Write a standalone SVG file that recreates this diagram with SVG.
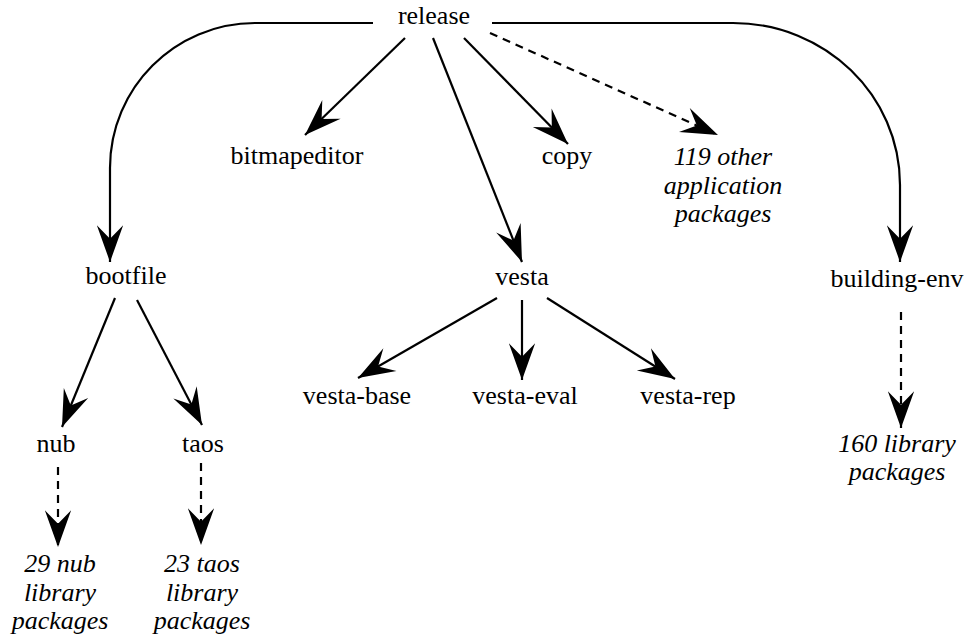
<svg xmlns="http://www.w3.org/2000/svg" width="967" height="638" viewBox="0 0 967 638">
<style>
text{font-family:"Liberation Serif","Times New Roman",Times,serif;font-size:26px;fill:#000;text-anchor:middle}
.it{font-style:italic}
.e{fill:none;stroke:#000;stroke-width:2.2}
.d{stroke-dasharray:8 6}
</style>
<defs>
<marker id="ah" markerUnits="userSpaceOnUse" markerWidth="40" markerHeight="30" viewBox="-36 -14 38 28" refX="0" refY="0" orient="auto">
<path d="M0,0 L-35,-12.5 L-22,0 L-35,12.5 Z" fill="#000"/>
</marker>
</defs>
<rect width="967" height="638" fill="#fff"/>
<g id="connectors">
<path class="e" d="M373,23 H255 C175,23 110,88 110,168 V262" marker-end="url(#ah)"/>
<path class="e" d="M492,23 H733 C825,23 900,95 900,185 V262" marker-end="url(#ah)"/>
<path class="e" d="M405,38 L305,135" marker-end="url(#ah)"/>
<path class="e" d="M433,38 L522,262" marker-end="url(#ah)"/>
<path class="e" d="M464,38 L568,144" marker-end="url(#ah)"/>
<path class="e d" d="M490,33 L718,135" marker-end="url(#ah)"/>
<path class="e" d="M115,298 L62,427" marker-end="url(#ah)"/>
<path class="e" d="M137,300 L202,425" marker-end="url(#ah)"/>
<path class="e" d="M497,298 L358,378" marker-end="url(#ah)"/>
<path class="e" d="M522,300 L522,380" marker-end="url(#ah)"/>
<path class="e" d="M547,298 L675,379" marker-end="url(#ah)"/>
<path class="e d" d="M58,467 L58,547" marker-end="url(#ah)"/>
<path class="e d" d="M201,463 L201,545" marker-end="url(#ah)"/>
<path class="e d" d="M901,312 L901,428" marker-end="url(#ah)"/>
</g>
<g id="release"><text x="434" y="24" font-family="Liberation Serif">release</text></g>
<g id="bitmapeditor"><text x="297" y="164" font-family="Liberation Serif">bitmapeditor</text></g>
<g id="copy"><text x="567" y="164" font-family="Liberation Serif">copy</text></g>
<g id="other-apps"><text class="it" x="723" y="165" font-family="Liberation Serif">119 other</text><text class="it" x="723" y="193.5" font-family="Liberation Serif">application</text><text class="it" x="723" y="222" font-family="Liberation Serif">packages</text></g>
<g id="bootfile"><text x="126" y="284" font-family="Liberation Serif">bootfile</text></g>
<g id="vesta"><text x="522" y="285" font-family="Liberation Serif">vesta</text></g>
<g id="building-env"><text x="897" y="287" font-family="Liberation Serif">building-env</text></g>
<g id="vesta-base"><text x="357" y="404" font-family="Liberation Serif">vesta-base</text></g>
<g id="vesta-eval"><text x="525" y="404" font-family="Liberation Serif">vesta-eval</text></g>
<g id="vesta-rep"><text x="688" y="404" font-family="Liberation Serif">vesta-rep</text></g>
<g id="nub"><text x="56" y="452" font-family="Liberation Serif">nub</text></g>
<g id="taos"><text x="203" y="452" font-family="Liberation Serif">taos</text></g>
<g id="nub-libs"><text class="it" x="60" y="572" font-family="Liberation Serif">29 nub</text><text class="it" x="60" y="600.5" font-family="Liberation Serif">library</text><text class="it" x="60" y="629" font-family="Liberation Serif">packages</text></g>
<g id="taos-libs"><text class="it" x="202" y="572" font-family="Liberation Serif">23 taos</text><text class="it" x="202" y="600.5" font-family="Liberation Serif">library</text><text class="it" x="202" y="629" font-family="Liberation Serif">packages</text></g>
<g id="lib-160"><text class="it" x="897" y="452" font-family="Liberation Serif">160 library</text><text class="it" x="897" y="480" font-family="Liberation Serif">packages</text></g>
</svg>
